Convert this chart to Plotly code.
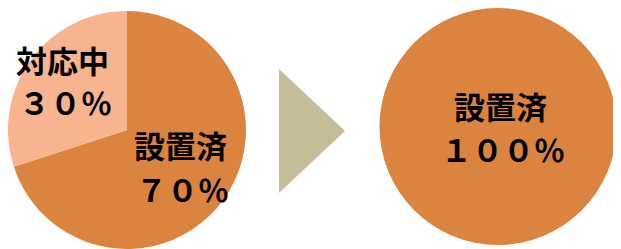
import plotly.graph_objects as go

# ---- data ----
before_labels = ["設置済", "対応中"]
before_values = [70, 30]
after_labels = ["設置済"]
after_values = [100]

colors = {"設置済": "#DA843F", "対応中": "#F8B48E"}
arrow_color = "#C4BD97"

# page body has an 8px margin; size figure so it fits the 621x249 window
OFF = 8
W, H = 621 - OFF, 249 - OFF


def px(x):
    return max(0.0, min(1.0, (x - OFF) / W))


def py(y):
    return max(0.0, min(1.0, 1 - (y - OFF) / H))


FW = str.maketrans("0123456789%", "０１２３４５６７８９％")


def fw(v):
    return f"{v}%".translate(FW)


fig = go.Figure()

fig.add_trace(go.Pie(
    labels=before_labels, values=before_values, sort=False,
    direction="clockwise", rotation=0, textinfo="none", hoverinfo="skip",
    marker=dict(colors=[colors[l] for l in before_labels], line=dict(width=0)),
    domain=dict(x=[px(8), px(246)], y=[py(249), py(11)]),
    showlegend=False,
))
fig.add_trace(go.Pie(
    labels=after_labels, values=after_values, sort=False,
    direction="clockwise", rotation=0, textinfo="none", hoverinfo="skip",
    marker=dict(colors=[colors[l] for l in after_labels], line=dict(width=0)),
    domain=dict(x=[px(378), px(618)], y=[py(245), py(8)]),
    showlegend=False,
))

# label placement (window-pixel centres of the label line and the percent line)
placements = [
    (before_labels, before_values, {"設置済": ((180, 144), (182, 188)),
                                    "対応中": ((62, 59), (65, 102))}),
    (after_labels, after_values, {"設置済": ((500, 105), (503, 148))}),
]

font = dict(family="Noto Sans CJK JP", size=31, color="#000000", weight=700)
annotations = []
for labels, values, pos in placements:
    for lab, val in zip(labels, values):
        (lx, ly), (vx, vy) = pos[lab]
        annotations.append(dict(text=lab, x=px(lx), y=py(ly), xref="paper", yref="paper",
                                xanchor="center", yanchor="middle", showarrow=False, font=font))
        annotations.append(dict(text=fw(val), x=px(vx), y=py(vy), xref="paper", yref="paper",
                                xanchor="center", yanchor="middle", showarrow=False, font=font))

arrow_path = "M {},{} L {},{} L {},{} Z".format(px(279), py(69), px(279), py(193), px(345), py(131))

fig.update_layout(
    width=W, height=H,
    margin=dict(l=0, r=0, t=0, b=0),
    paper_bgcolor="white", plot_bgcolor="white",
    annotations=annotations,
    shapes=[dict(type="path", path=arrow_path, xref="paper", yref="paper",
                 fillcolor=arrow_color, line=dict(width=0))],
)

fig.write_html("out.html")
